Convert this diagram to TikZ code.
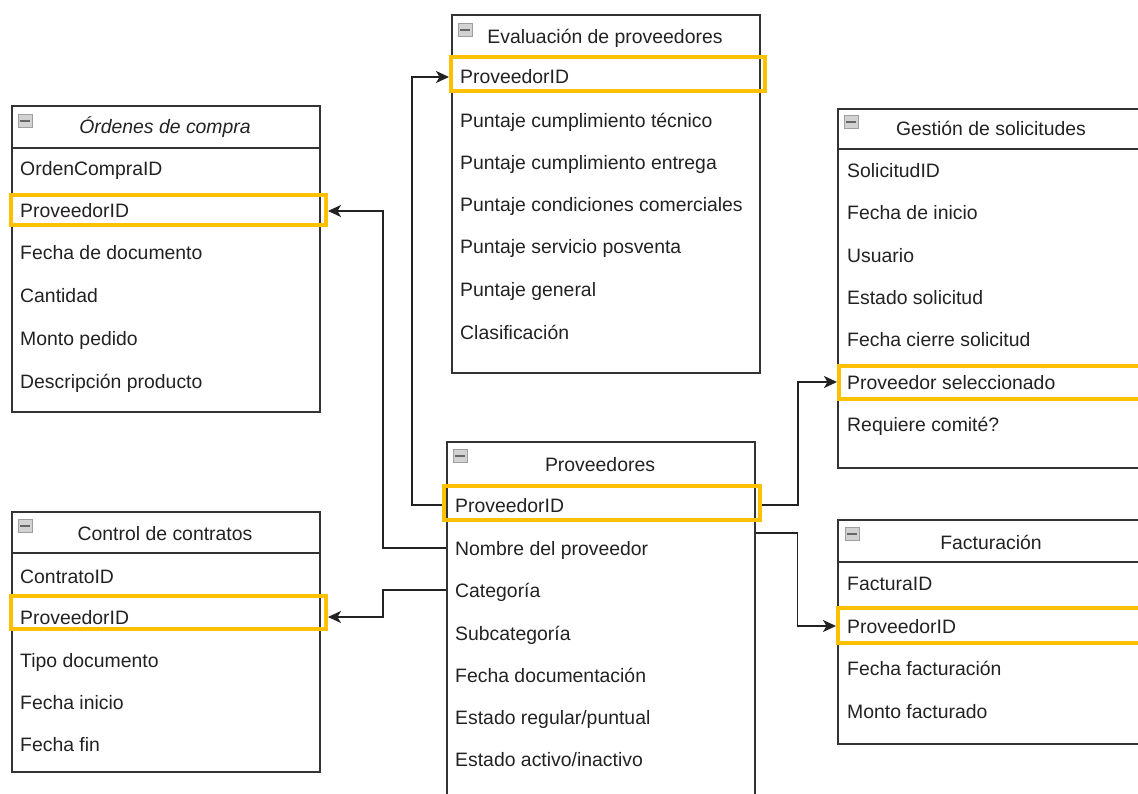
\documentclass[tikz,border=0pt]{standalone}
\usepackage{fontspec}
\setmainfont{Liberation Sans}
\usetikzlibrary{arrows.meta}
\definecolor{ink}{HTML}{222222}
\definecolor{frame}{HTML}{333333}
\definecolor{keyhl}{HTML}{FFC000}
\begin{document}
\begin{tikzpicture}[x=1pt,y=-1pt,
  every node/.style={font=\fontsize{19.4}{23}\selectfont, text=ink},
  table/.style={draw=frame, line width=1.6pt, rectangle, anchor=north west,
    minimum width=308pt, inner sep=0pt},
  field/.style={anchor=west, inner sep=0pt, text height=14pt, text depth=0pt},
  title/.style={anchor=center, inner sep=0pt, text height=14pt, text depth=0pt},
  keybox/.style={draw=keyhl, line width=4pt, rectangle, anchor=north west, inner sep=0pt},
  sep/.style={draw=frame, line width=1.6pt},
  link/.style={draw=ink, line width=1.5pt,
    -{Stealth[length=13pt,width=12pt,inset=3.5pt]}},
  collapser/.pic={
    \fill[gray!35] (-7,-6.5) rectangle (7,6.5);
    \draw[gray!75, line width=0.9pt] (-7,-6.5) rectangle (7,6.5);
    \fill[gray!80!black] (-5,-1.4) rectangle (5,1.4);
  },
]
\useasboundingbox (0,0) rectangle (1138,794);
\fill[white] (0,0) rectangle (1138,794);
\clip (0,0) rectangle (1138,794);

% ---- table frames ----
\node[table, minimum height=306pt] (ord) at (11,105) {};
\node[table, minimum height=358pt] (eval) at (451,14) {};
\node[table, minimum height=359pt] (sol) at (837,108) {};
\node[table, minimum height=420pt] (prov) at (446,441) {};
\node[table, minimum height=260pt] (con) at (11,511) {};
\node[table, minimum height=224pt] (fac) at (837,519) {};

% ---- header separators ----
\draw[sep] (ord.west |- 0,148) -- (ord.east |- 0,148);
\draw[sep] (eval.west |- 0,57) -- (eval.east |- 0,57);
\draw[sep] (sol.west |- 0,149) -- (sol.east |- 0,149);
\draw[sep] (prov.west |- 0,485) -- (prov.east |- 0,485);
\draw[sep] (con.west |- 0,553) -- (con.east |- 0,553);
\draw[sep] (fac.west |- 0,562) -- (fac.east |- 0,562);

% ---- collapse icons ----
\pic at (25,121) {collapser};
\pic at (465,30) {collapser};
\pic at (851,122) {collapser};
\pic at (460,456) {collapser};
\pic at (25,526) {collapser};
\pic at (852,534) {collapser};

% ---- titles ----
\node[title] (ord-t) at (165,127) {\itshape Órdenes de compra};
\node[title] (eval-t) at (605,37) {Evaluación de proveedores};
\node[title] (sol-t) at (991,129) {Gestión de solicitudes};
\node[title] (prov-t) at (600,464) {Proveedores};
\node[title] (con-t) at (165,533) {Control de contratos};
\node[title] (fac-t) at (991,542) {Facturación};

% ---- key highlights ----
\node[keybox, minimum width=315pt, minimum height=30pt] (ord-pid) at (9,193) {};
\node[keybox, minimum width=314pt, minimum height=34pt] (eval-pid) at (449,55) {};
\node[keybox, minimum width=320pt, minimum height=33pt] (sol-pid) at (837,364) {};
\node[keybox, minimum width=316pt, minimum height=34pt] (prov-pid) at (442,484) {};
\node[keybox, minimum width=315pt, minimum height=33pt] (con-pid) at (9,594) {};
\node[keybox, minimum width=320pt, minimum height=35pt] (fac-pid) at (836,606) {};

% ---- fields ----
\foreach \t/\y [count=\i] in {OrdenCompraID/169, ProveedorID/211,
    Fecha de documento/253, Cantidad/296, Monto pedido/338,
    Descripción producto/381}
  \node[field] (ord-r\i) at (20,\y) {\t};
\foreach \t/\y [count=\i] in {ProveedorID/77, Puntaje cumplimiento técnico/121,
    Puntaje cumplimiento entrega/163, Puntaje condiciones comerciales/205,
    Puntaje servicio posventa/247, Puntaje general/290, Clasificación/332}
  \node[field] (eval-r\i) at (460,\y) {\t};
\foreach \t/\y [count=\i] in {SolicitudID/171, Fecha de inicio/213, Usuario/256,
    Estado solicitud/298, Fecha cierre solicitud/340,
    Proveedor seleccionado/382, Requiere comité?/424}
  \node[field] (sol-r\i) at (847,\y) {\t};
\foreach \t/\y [count=\i] in {ProveedorID/505, Nombre del proveedor/548,
    Categoría/590, Subcategoría/633, Fecha documentación/675,
    {Estado regular/puntual}/717, {Estado activo/inactivo}/759}
  \node[field] (prov-r\i) at (455,\y) {\t};
\foreach \t/\y [count=\i] in {ContratoID/576, ProveedorID/617,
    Tipo documento/660, Fecha inicio/702, Fecha fin/744}
  \node[field] (con-r\i) at (20,\y) {\t};
\foreach \t/\y [count=\i] in {FacturaID/583, ProveedorID/626,
    Fecha facturación/668, Monto facturado/711}
  \node[field] (fac-r\i) at (847,\y) {\t};

% ---- relations ----
\coordinate (prov-out) at (prov.east |- 0,533);
\draw[link] (prov-pid.west |- prov-r1.west) -- ++(-30,0) |- (eval-pid.west |- eval-r1.west);
\draw[link] (prov.west |- prov-r2.west) -- ++(-63,0) |- (ord-pid.east |- ord-r2.west);
\draw[link] (prov.west |- prov-r3.west) -- ++(-63,0) |- (con-pid.east |- con-r2.west);
\draw[link] (prov-pid.east |- prov-r1.west) -- ++(36,0) |- (sol-pid.west |- sol-r6.west);
\draw[link] (prov-out) -- ++(42,0) |- (fac-pid.west |- fac-r2.west);
\end{tikzpicture}
\end{document}
